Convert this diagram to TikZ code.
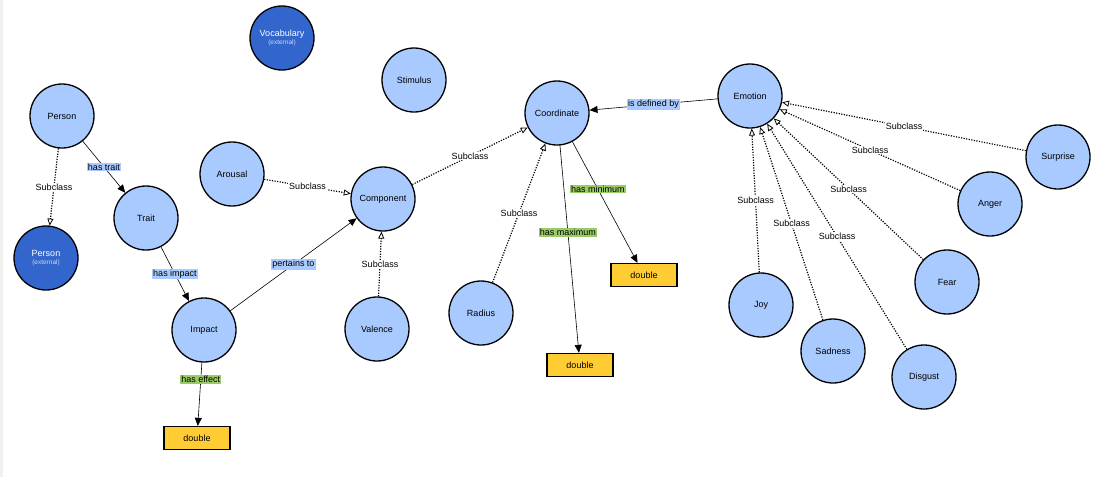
\documentclass[tikz,border=0pt]{standalone}
\usepackage{fontspec}
\setmainfont{Liberation Sans}
\usetikzlibrary{arrows.meta}
\definecolor{lb}{HTML}{A8CAFF}
\definecolor{db}{HTML}{3366CC}
\definecolor{yel}{HTML}{FFCC33}
\definecolor{lg}{HTML}{99CC66}
\definecolor{extc}{HTML}{C8D8F4}
\definecolor{edge}{HTML}{F0F0F0}
\begin{document}
\begin{tikzpicture}[x=1pt,y=-1pt, font=\fontsize{9}{10}\selectfont,
  cls/.style={circle, draw=black, line width=1.3pt, fill=lb, minimum size=64pt, inner sep=0pt},
  ext/.style={cls, fill=db, text=white, align=center},
  lit/.style={rectangle, draw=black, line width=1.3pt, fill=yel, minimum width=66pt, minimum height=23pt, inner sep=0pt},
  sub/.style={line width=1.2pt, dash pattern=on 1.2pt off 1.4pt, -{Triangle[open,length=7pt,width=6pt,line width=0.8pt]}},
  rel/.style={line width=0.6pt, -{Triangle[length=8pt,width=7pt]}},
  bl/.style={fill=lb, inner sep=1pt},
  gl/.style={fill=lg, inner sep=1pt},
  sl/.style={fill=white, inner sep=1pt}
]
\useasboundingbox (0,0) rectangle (1105,477);
\fill[white] (0,0) rectangle (1105,477);
\fill[edge] (0,0) rectangle (3,477);

% nodes
\node[ext] (voc) at (282,38) {Vocabulary\\[-2pt]{\fontsize{6.5}{7}\selectfont\color{extc}(external)}};
\node[cls] (stim) at (414,80) {Stimulus};
\node[cls] (person) at (62,116) {Person};
\node[ext] (pext) at (46,258) {Person\\[-2pt]{\fontsize{6.5}{7}\selectfont\color{extc}(external)}};
\node[cls] (trait) at (146,218) {Trait};
\node[cls] (arousal) at (232,174) {Arousal};
\node[cls] (comp) at (383,199) {Component};
\node[cls] (impact) at (204,330) {Impact};
\node[cls] (valence) at (377,329) {Valence};
\node[cls] (radius) at (481,313) {Radius};
\node[cls] (coord) at (557,113) {Coordinate};
\node[cls] (emotion) at (750,96) {Emotion};
\node[cls] (surprise) at (1058,157) {Surprise};
\node[cls] (anger) at (990,204) {Anger};
\node[cls] (fear) at (947,282) {Fear};
\node[cls] (joy) at (761,305) {Joy};
\node[cls] (sadness) at (833,351) {Sadness};
\node[cls] (disgust) at (924,377) {Disgust};
\node[lit] (d1) at (197,438) {double};
\node[lit] (d2) at (580,365) {double};
\node[lit] (d3) at (644,275) {double};

% subclass edges
\draw[sub] (person) -- node[sl] {Subclass} (pext);
\draw[sub] (arousal) -- node[sl] {Subclass} (comp);
\draw[sub] (comp) -- node[sl] {Subclass} (coord);
\draw[sub] (valence) -- node[sl] {Subclass} (comp);
\draw[sub] (radius) -- node[sl] {Subclass} (coord);
\draw[sub] (surprise) -- node[sl] {Subclass} (emotion);
\draw[sub] (anger) -- node[sl] {Subclass} (emotion);
\draw[sub] (fear) -- node[sl] {Subclass} (emotion);
\draw[sub] (joy) -- node[sl] {Subclass} (emotion);
\draw[sub] (sadness) -- node[sl] {Subclass} (emotion);
\draw[sub] (disgust) -- node[sl] {Subclass} (emotion);

% relations
\draw[rel] (person) -- node[bl] {has trait} (trait);
\draw[rel] (trait) -- node[bl] {has impact} (impact);
\draw[rel] (impact) -- node[bl] {pertains to} (comp);
\draw[rel] (impact) -- node[gl, pos=0.27] {has effect} (d1);
\draw[rel] (coord) -- node[gl, pos=0.42] {has maximum} (d2);
\draw[rel] (coord) -- node[gl, pos=0.39] {has minimum} (d3);
\draw[rel] (emotion) -- node[bl] {is defined by} (coord);
\end{tikzpicture}
\end{document}
